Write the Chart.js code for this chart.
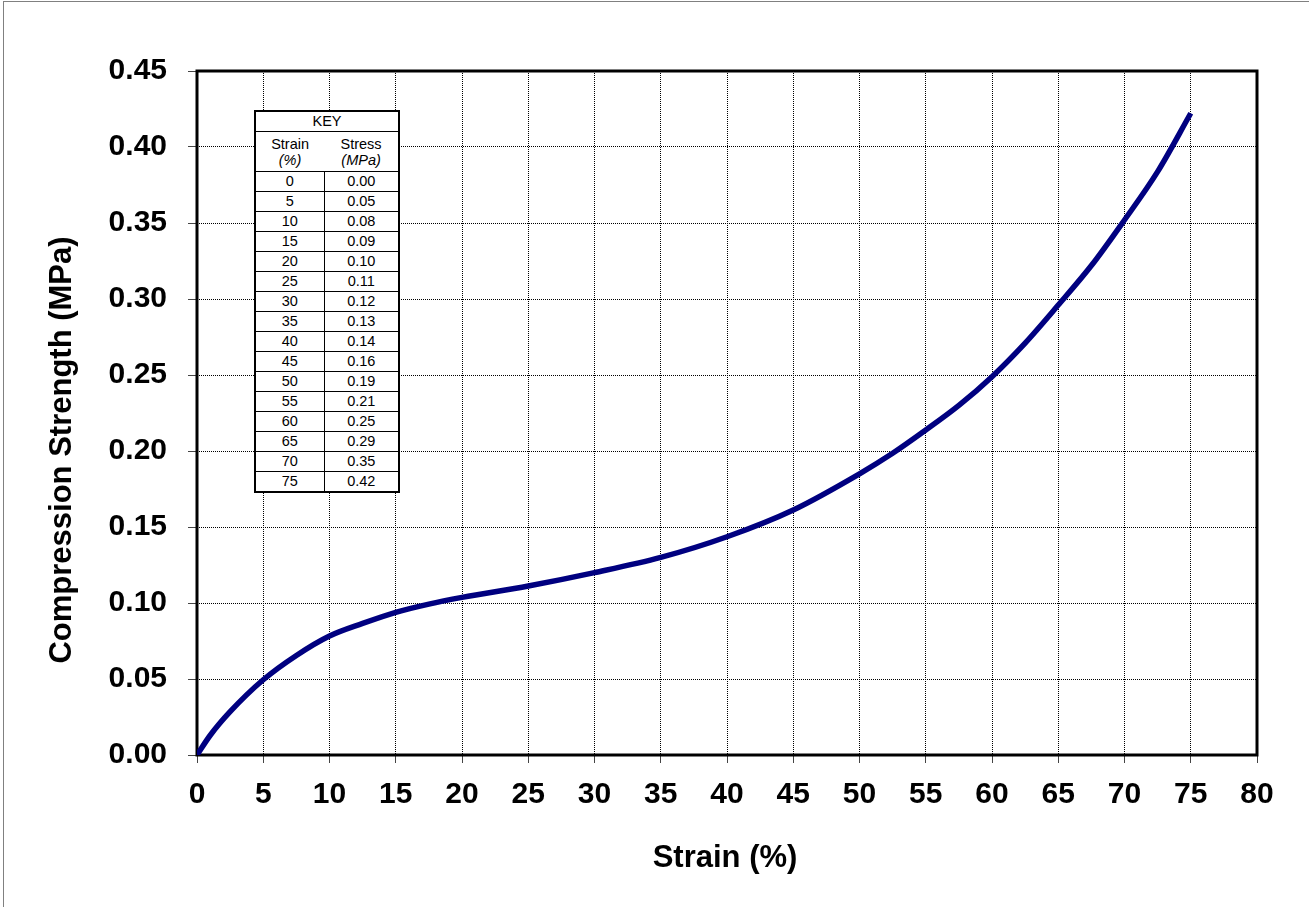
<!DOCTYPE html>
<html>
<head>
<meta charset="utf-8">
<script src="https://cdn.jsdelivr.net/npm/chart.js@4.4.1/dist/chart.umd.min.js"></script>
<style>
    body { margin: 0; background: #fff; overflow: hidden; }
    #frame { position: absolute; left: 3px; top: 1px; width: 1320px; height: 920px; border: 1px solid #808080; }
    #chart { position: absolute; left: 0; top: 0; }
    #key {
        position: absolute; left: 254px; top: 110px; width: 146px;
        border-collapse: collapse; border: 2px solid #000; background: #fff;
        font-family: "Liberation Sans", Arial, sans-serif; font-size: 14.5px; color: #000;
    }
    #key td { border: 1px solid #000; padding: 0; text-align: center; height: 19px; line-height: 17px; }
    #key td.sub { border-left: none; border-right: none; height: 39px; line-height: 16px; }
</style>
</head>
<body>
<div id="frame"></div>
<canvas id="chart" width="1309" height="907"></canvas>
<table id="key"></table>
<script>
// curve
var strain = [0, 1, 2.5, 5, 7.5, 10, 12.5, 15, 17.5, 20, 25, 30, 35, 40, 45, 50, 52.5, 55, 57.5, 60, 62.5, 65, 67.5, 70, 72.5, 75];
var stress = [0, 0.013, 0.0285, 0.0495, 0.0655, 0.0783, 0.0866, 0.0939, 0.0993, 0.1037, 0.1112, 0.1200, 0.130, 0.1436, 0.1612, 0.185, 0.1985, 0.2138, 0.230, 0.2489, 0.271, 0.296, 0.322, 0.352, 0.3838, 0.4222];

// key table
var keyStrain = [0, 5, 10, 15, 20, 25, 30, 35, 40, 45, 50, 55, 60, 65, 70, 75];
var keyStress = [0.00, 0.05, 0.08, 0.09, 0.10, 0.11, 0.12, 0.13, 0.14, 0.16, 0.19, 0.21, 0.25, 0.29, 0.35, 0.42];

var xTitle = 'Strain (%)';
var yTitle = 'Compression Strength (MPa)';

var fontFamily = '"Liberation Sans", Arial, sans-serif';

// build the key
var html = '<tr><td colspan="2">KEY</td></tr>';
html += '<tr><td class="sub">Strain<br><i>(%)</i></td><td class="sub">Stress<br><i>(MPa)</i></td></tr>';
for (var i = 0; i < keyStrain.length; i++) {
    html += '<tr><td>' + keyStrain[i] + '</td><td>' + keyStress[i].toFixed(2) + '</td></tr>';
}
document.getElementById('key').innerHTML = html;

var framePlugin = {
    id: 'frame',
    beforeDatasetsDraw: function (chart) {
        var ctx = chart.ctx, a = chart.chartArea;
        ctx.save();
        ctx.strokeStyle = '#000';
        ctx.lineWidth = 3;
        ctx.strokeRect(a.left, a.top, a.right - a.left, a.bottom - a.top);
        ctx.restore();
    },
    afterDraw: function (chart) {
        var ctx = chart.ctx;
        ctx.save();
        ctx.fillStyle = '#000';
        ctx.font = 'bold 31px ' + fontFamily;
        ctx.textAlign = 'center';
        ctx.textBaseline = 'middle';
        ctx.fillText(xTitle, 725, 858);
        ctx.translate(62, 450);
        ctx.rotate(-Math.PI / 2);
        ctx.fillText(yTitle, 0, 0);
        ctx.restore();
    }
};

var ctx = document.getElementById('chart').getContext('2d');
var chart = new Chart(ctx, {
    type: 'line',
    data: {
        datasets: [{
            data: strain.map(function (s, i) { return { x: s, y: stress[i] }; }),
            borderColor: '#000080',
            borderWidth: 5.5,
            pointRadius: 0,
            cubicInterpolationMode: 'monotone',
            fill: false
        }]
    },
    options: {
        responsive: false,
        animation: false,
        layout: { padding: { left: 0, top: 71, right: 52, bottom: 0 } },
        plugins: { legend: { display: false }, tooltip: { enabled: false } },
        scales: {
            x: {
                type: 'linear',
                min: 0, max: 80,
                afterFit: function (s) { s.height = 152; },
                ticks: {
                    stepSize: 5,
                    padding: 14,
                    color: '#000',
                    font: { family: fontFamily, size: 30, weight: 'bold' }
                },
                grid: { color: '#000', lineWidth: 1, tickLength: 8, tickColor: '#444', tickWidth: 1 },
                border: { display: false, dash: [1, 1] }
            },
            y: {
                min: 0, max: 0.45,
                afterFit: function (s) { s.width = 197; },
                ticks: {
                    stepSize: 0.05,
                    padding: 21,
                    color: '#000',
                    font: { family: fontFamily, size: 30, weight: 'bold' },
                    callback: function (v) { return v.toFixed(2); }
                },
                grid: { color: '#000', lineWidth: 1, tickLength: 9, tickColor: '#444', tickWidth: 1 },
                border: { display: false, dash: [1, 1] }
            }
        }
    },
    plugins: [framePlugin]
});
</script>
</body>
</html>
